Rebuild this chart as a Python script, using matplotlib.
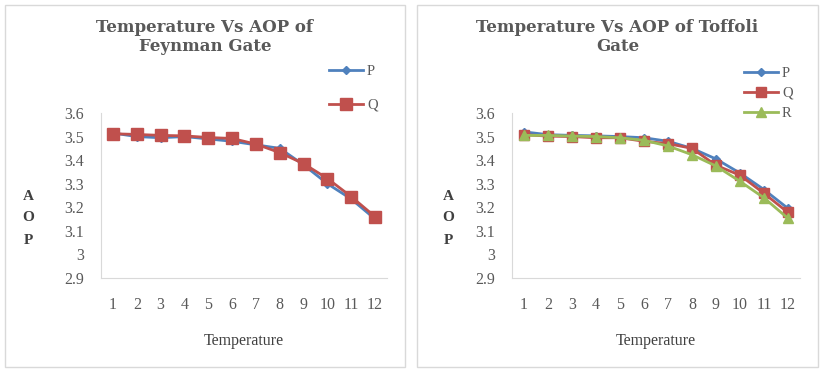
import numpy as np
import matplotlib.pyplot as plt
from matplotlib.patches import Rectangle

temps = [1, 2, 3, 4, 5, 6, 7, 8, 9, 10, 11, 12]

# Feynman gate
feyn_p = [3.515, 3.50, 3.495, 3.50, 3.49, 3.48, 3.465, 3.45, 3.38, 3.30, 3.235, 3.15]
feyn_q = [3.512, 3.509, 3.505, 3.503, 3.496, 3.492, 3.468, 3.432, 3.385, 3.322, 3.245, 3.160]

# Toffoli gate
toff_p = [3.52, 3.508, 3.505, 3.503, 3.50, 3.495, 3.48, 3.45, 3.405, 3.345, 3.275, 3.195]
toff_q = [3.508, 3.502, 3.50, 3.495, 3.495, 3.48, 3.47, 3.45, 3.378, 3.336, 3.259, 3.178]
toff_r = [3.505, 3.505, 3.502, 3.50, 3.495, 3.484, 3.46, 3.423, 3.375, 3.31, 3.24, 3.153]

yticks = [2.9, 3, 3.1, 3.2, 3.3, 3.4, 3.5, 3.6]

BLUE = '#4F81BD'
RED = '#C0504D'
GREEN = '#9BBB59'
TXT = '#595959'
SERIF = ['Liberation Serif', 'DejaVu Serif']

W, H = 824, 373
fig = plt.figure(figsize=(W / 100, H / 100), dpi=100)


def px(x0, y0, x1, y1):
    # pixel box -> figure fraction [left, bottom, width, height]
    return [x0 / W, 1 - y1 / H, (x1 - x0) / W, (y1 - y0) / H]


def panel(x0, x1, ax_box, title, series, ylab_x, leg_anchor, leg_space):
    fig.patches.append(Rectangle((x0 / W, 1 - 367 / H), (x1 - x0) / W, 362 / H,
                                 transform=fig.transFigure, fill=False,
                                 edgecolor='#D9D9D9', lw=1.0))
    ax = fig.add_axes(px(*ax_box))
    for vals, col, mk, ms, name in series:
        ax.plot(temps, vals, color=col, lw=2.0, marker=mk, ms=ms,
                label=name, markeredgecolor=col)
    ax.set_xlim(0.5, 12.5)
    ax.set_ylim(2.9, 3.6)
    ax.set_xticks(temps)
    ax.set_yticks(yticks)
    ax.set_yticklabels([f'{v:g}' for v in yticks])
    for s in ['top', 'right']:
        ax.spines[s].set_visible(False)
    for s in ['left', 'bottom']:
        ax.spines[s].set_color('#D9D9D9')
    ax.tick_params(length=0, labelsize=11.5, labelcolor=TXT, pad=12)
    ax.tick_params(axis='x', pad=14)
    for lab in ax.get_xticklabels() + ax.get_yticklabels():
        lab.set_family(SERIF)
    cx = (x0 + x1) / 2 / W
    fig.text(cx, 1 - 37 / H, title, ha='center', va='center', fontsize=12,
             fontweight='bold', color=TXT, family=['DejaVu Serif'],
             linespacing=1.2)
    ax.set_xlabel('Temperature', fontsize=11.5, color='#404040', family=SERIF,
                  labelpad=14)
    for ch, y in zip('AOP', [197, 218, 240]):
        fig.text(ylab_x / W, 1 - y / H, ch, ha='center', va='center',
                 fontsize=11, fontweight='bold', color='#404040', family=SERIF)
    leg = fig.legend(handles=ax.get_lines(), loc='upper left',
                     bbox_to_anchor=(leg_anchor[0] / W, 1 - leg_anchor[1] / H),
                     frameon=False, labelspacing=leg_space,
                     handlelength=2.3, handletextpad=0.3, borderpad=0,
                     borderaxespad=0, prop={'family': SERIF, 'size': 10.5})
    for t in leg.get_texts():
        t.set_color(TXT)
    return ax


panel(5, 405, (101, 113, 387, 278),
      'Temperature Vs AOP of\nFeynman Gate',
      [(feyn_p, BLUE, 'D', 4, 'P'), (feyn_q, RED, 's', 8, 'Q')],
      28, (329, 65), 1.4)

panel(417, 818, (512, 113, 800, 278),
      'Temperature Vs AOP of Toffoli\nGate',
      [(toff_p, BLUE, 'D', 4, 'P'), (toff_q, RED, 's', 7, 'Q'),
       (toff_r, GREEN, '^', 7, 'R')],
      448, (744, 67), 0.45)

fig.savefig('out.png', dpi=100)
